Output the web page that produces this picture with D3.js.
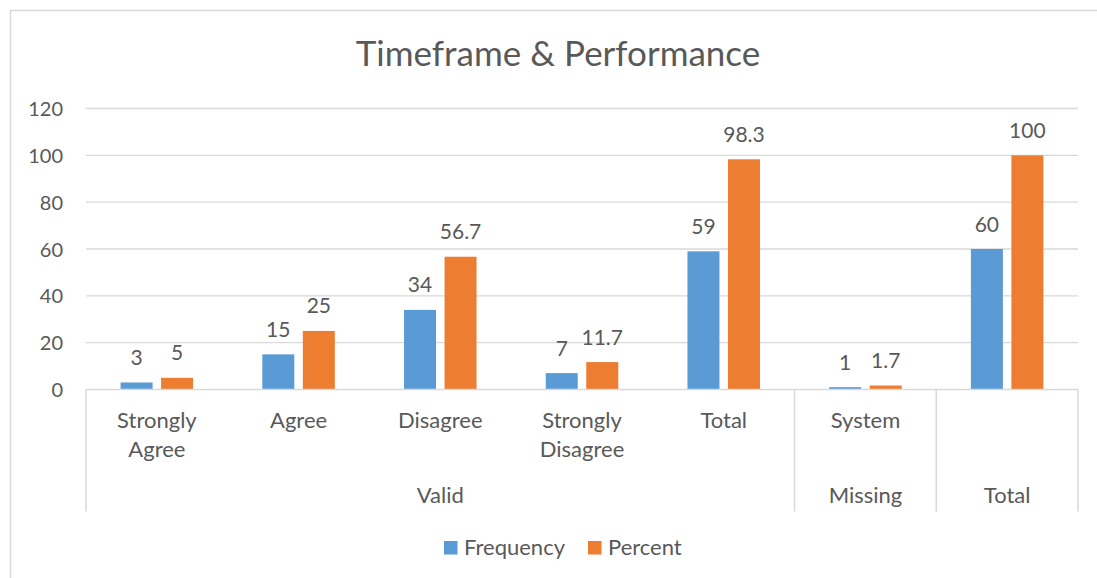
<!DOCTYPE html>
<html>
<head>
<meta charset="utf-8">
<script src="https://cdn.jsdelivr.net/npm/d3@7"></script>
<style>
  html, body { margin: 0; padding: 0; background: #ffffff; }
  svg { display: block; }
  text { font-family: Lato, "Open Sans", sans-serif; fill: #595959; }
</style>
</head>
<body>
<svg id="chart" width="1097" height="578"></svg>
<script>
// Category labels (lower axis level), one per column
const categories = ["Strongly Agree", "Agree", "Disagree", "Strongly Disagree", "Total", "System", ""];
// Upper axis level: group name and how many columns it spans
const groupNames = ["Valid", "Missing", "Total"];
const groupSpans = [5, 1, 1];
// Series
const seriesNames = ["Frequency", "Percent"];
const frequency = [3, 15, 34, 7, 59, 1, 60];
const percent = [5, 25, 56.7, 11.7, 98.3, 1.7, 100];
const yTicks = [0, 20, 40, 60, 80, 100, 120];

const colors = { Frequency: "#5B9BD5", Percent: "#ED7D31" };
const seriesValues = { Frequency: frequency, Percent: percent };

const svg = d3.select("#chart");
const plot = { left: 86, right: 1078, top: 108.5, bottom: 389.5 };

// Chart frame
svg.append("rect")
  .attr("x", 10.5).attr("y", 10.5)
  .attr("width", 1100).attr("height", 600)
  .attr("fill", "#fff").attr("stroke", "#D9D9D9").attr("stroke-width", 1.5);

// Title
svg.append("text")
  .attr("x", 558).attr("y", 66)
  .attr("text-anchor", "middle")
  .style("font-size", "35px")
  .text("Timeframe & Performance");

const y = d3.scaleLinear().domain([0, 120]).range([plot.bottom, plot.top]);
const x0 = d3.scaleBand().domain(d3.range(categories.length)).range([plot.left, plot.right]).padding(0);
const x1 = d3.scaleBand().domain(seriesNames).range([0, x0.bandwidth()])
  .paddingInner(0.21).paddingOuter(0.854);

// Horizontal gridlines
svg.append("g")
  .selectAll("line")
  .data(yTicks.filter(d => d > 0))
  .join("line")
  .attr("x1", plot.left).attr("x2", plot.right)
  .attr("y1", d => y(d)).attr("y2", d => y(d))
  .attr("stroke", "#D9D9D9").attr("stroke-width", 1.3);

// Y axis labels
const yAxis = d3.axisLeft(y).tickValues(yTicks).tickSize(0).tickPadding(0);
const yg = svg.append("g").attr("transform", `translate(${63},0)`).call(yAxis);
yg.select(".domain").remove();
yg.selectAll("text")
  .style("font-size", "20px")
  .style("font-family", "Lato, 'Open Sans', sans-serif")
  .attr("fill", "#595959")
  .attr("dy", "0.35em");

// Bars
const rows = categories.map((c, i) => ({ i, values: seriesNames.map(s => ({ s, v: seriesValues[s][i] })) }));
const groups = svg.append("g").selectAll("g")
  .data(rows).join("g")
  .attr("transform", d => `translate(${x0(d.i)},0)`);

groups.selectAll("rect")
  .data(d => d.values).join("rect")
  .attr("x", d => x1(d.s))
  .attr("width", x1.bandwidth())
  .attr("y", d => y(d.v))
  .attr("height", d => y(0) - y(d.v))
  .attr("fill", d => colors[d.s]);

// Value labels
groups.selectAll("text.val")
  .data(d => d.values).join("text")
  .attr("class", "val")
  .attr("x", d => x1(d.s) + x1.bandwidth() / 2)
  .attr("y", d => y(d.v) - 17.5)
  .attr("text-anchor", "middle")
  .style("font-size", "21px")
  .text(d => d.v);

// Category axis: baseline and group separators
const axisBottom = 511.5;
svg.append("line")
  .attr("x1", plot.left).attr("x2", plot.right)
  .attr("y1", plot.bottom).attr("y2", plot.bottom)
  .attr("stroke", "#D9D9D9").attr("stroke-width", 1.5);

let start = 0;
const groupRanges = groupSpans.map(n => { const r = [start, start + n]; start += n; return r; });
const boundaries = [plot.left].concat(groupRanges.map(r => x0(r[1] - 1) + x0.bandwidth()));
svg.append("g").selectAll("line")
  .data(boundaries).join("line")
  .attr("x1", d => d).attr("x2", d => d)
  .attr("y1", plot.bottom).attr("y2", axisBottom)
  .attr("stroke", "#D9D9D9").attr("stroke-width", 1.5);

// Category labels (wrapped onto two lines where needed)
const catText = svg.append("g").selectAll("text")
  .data(categories.map((c, i) => ({ c, i }))).join("text")
  .attr("text-anchor", "middle")
  .style("font-size", "22px")
  .attr("transform", d => `translate(${x0(d.i) + x0.bandwidth() / 2},${428})`);
catText.each(function (d) {
  const words = d.c.split(" ").filter(w => w);
  d3.select(this).selectAll("tspan")
    .data(words).join("tspan")
    .attr("x", 0)
    .attr("y", (w, k) => k * 28.5)
    .text(w => w);
});

// Group labels
svg.append("g").selectAll("text")
  .data(groupNames.map((g, k) => ({ g, r: groupRanges[k] }))).join("text")
  .attr("text-anchor", "middle")
  .style("font-size", "22px")
  .attr("x", d => (x0(d.r[0]) + x0(d.r[1] - 1) + x0.bandwidth()) / 2)
  .attr("y", 503)
  .text(d => d.g);

// Legend
const legendItems = [
  { s: "Frequency", x: 444 },
  { s: "Percent", x: 588 }
];
const lg = svg.append("g").selectAll("g")
  .data(legendItems).join("g")
  .attr("transform", d => `translate(${d.x},${541})`);
lg.append("rect")
  .attr("width", 13.5).attr("height", 13.5)
  .attr("fill", d => colors[d.s]);
lg.append("text")
  .attr("x", 20).attr("y", 6.75)
  .attr("dy", "0.35em")
  .style("font-size", "22px")
  .text(d => d.s);
</script>
</body>
</html>
